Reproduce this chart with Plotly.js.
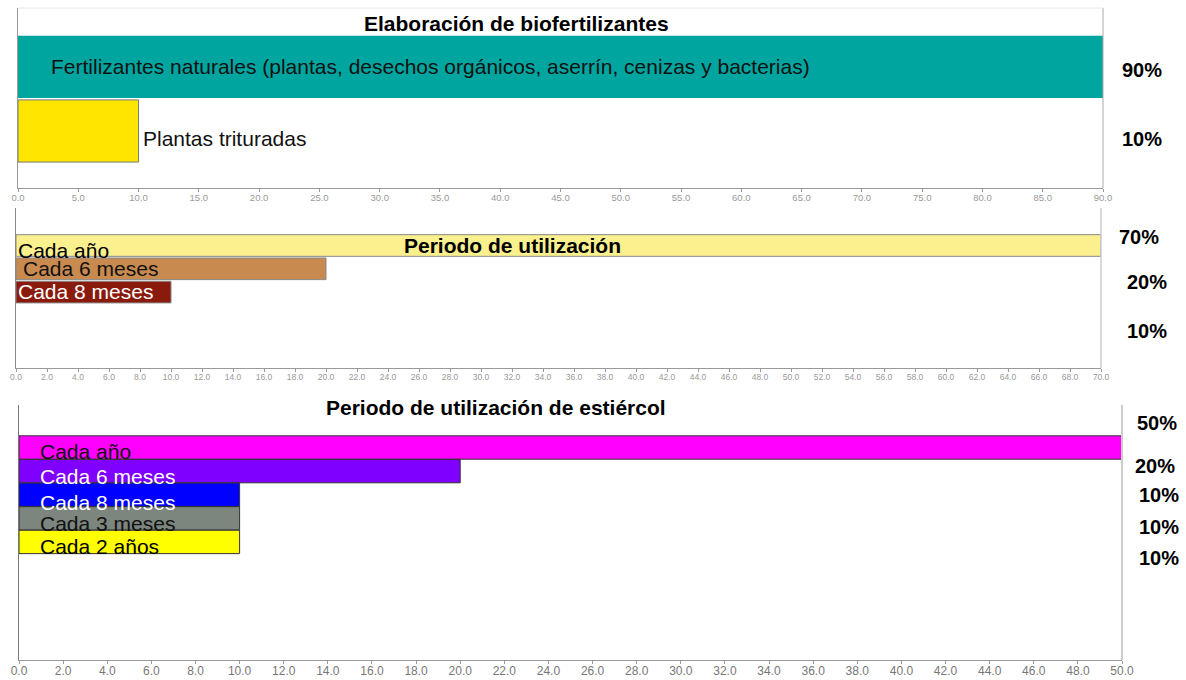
<!DOCTYPE html>
<html>
<head>
<meta charset="utf-8">
<script src="https://cdn.plot.ly/plotly-3.0.1.min.js"></script>
<style>html,body{margin:0;padding:0;background:#fff}#chart{width:1186px;height:680px}</style>
</head>
<body>
<div id="chart"></div>
<script>
// ---- data ----
const bioTitle = 'Elaboración de biofertilizantes';
const bioCats = ['Fertilizantes naturales (plantas, desechos orgánicos, aserrín, cenizas y bacterias)', 'Plantas trituradas'];
const bioVals = [90, 10];
const bioColors = ['#00A5A0', '#FFE600'];

const useTitle = 'Periodo de utilización';
const useCats = ['Cada año', 'Cada 6 meses', 'Cada 8 meses'];
const useVals = [70, 20, 10];
const useColors = ['#FAF08E', '#C98A50', '#8A1B0C'];

const manTitle = 'Periodo de utilización de estiércol';
const manCats = ['Cada año', 'Cada 6 meses', 'Cada 8 meses', 'Cada 3 meses', 'Cada 2 años'];
const manVals = [50, 20, 10, 10, 10];
const manColors = ['#FF00FF', '#8000FF', '#0000FF', '#7C857E', '#FFFF00'];

// ---- layout helpers ----
const W = 1186, H = 680;
const px = v => v / W;
const py = v => 1 - v / H;
const FONT = 'Arial, "Liberation Sans", sans-serif';
const LBL = 21;

const traces = [
  {type:'bar', orientation:'h', x:bioVals, y:bioCats, xaxis:'x', yaxis:'y', width:0.97,
   marker:{color:bioColors, line:{color:['rgba(0,0,0,0)','#777'], width:1}}, hoverinfo:'x+y'},
  {type:'bar', orientation:'h', x:useVals, y:useCats, xaxis:'x2', yaxis:'y2', width:0.93,
   marker:{color:useColors, line:{color:'#888', width:1}}, hoverinfo:'x+y'},
  {type:'bar', orientation:'h', x:manVals, y:manCats, xaxis:'x3', yaxis:'y3', width:0.99,
   marker:{color:manColors, line:{color:'#333', width:1}}, hoverinfo:'x+y'}
];

function xax(domain, range, dtick, anchor, size, color, standoff) {
  return {domain:domain, range:range, dtick:dtick, tick0:0, tickmode:'linear', tickformat:'.1f',
    anchor:anchor, showgrid:false, zeroline:false, showline:true, linecolor:'#999', linewidth:1,
    ticks:'outside', ticklen:3, tickcolor:'#999', ticklabelstandoff:standoff,
    tickfont:{family:FONT, size:size, color:color}, fixedrange:true};
}
function yax(domain, range, anchor, lc) {
  return {domain:domain, range:range, type:'category', anchor:anchor, showgrid:false, zeroline:false,
    showline:true, linecolor:lc, linewidth:1.5, showticklabels:false, ticks:'', fixedrange:true};
}

const annotations = [];
function ttl(text, x, y) {
  annotations.push({text:'<b>'+text+'</b>', xref:'paper', yref:'paper', x:px(x), y:py(y),
    xanchor:'center', yanchor:'middle', showarrow:false, font:{family:FONT, size:21, color:'#000'}});
}
function pct(v, x, y) {
  annotations.push({text:'<b>'+v+'%</b>', xref:'paper', yref:'paper', x:px(x), y:py(y),
    xanchor:'left', yanchor:'middle', showarrow:false, font:{family:FONT, size:20, color:'#000'}});
}

// panel 1 labels
ttl(bioTitle, 516, 24);
annotations.push({text:bioCats[0], xref:'x', yref:'y', x:2.6, y:bioCats[0], xanchor:'left', yanchor:'middle',
  showarrow:false, font:{family:FONT, size:LBL, color:'#111'}});
annotations.push({text:bioCats[1], xref:'x', yref:'paper', x:bioVals[1]+0.2, y:py(139), xanchor:'left', yanchor:'middle',
  showarrow:false, font:{family:FONT, size:LBL, color:'#111'}});
pct(bioVals[0], 1120, 70);
pct(bioVals[1], 1120, 139);

// panel 2 labels
ttl(useTitle, 512, 245);
const useLabY = [250, 269, 291];
const useLabX = [0, 0.35, 0];
const useLabC = ['#000', '#111', '#fff'];
useCats.forEach((c, i) => annotations.push({text:c, xref:'x2', yref:'paper', x:useLabX[i], y:py(useLabY[i]),
  xanchor:'left', yanchor:'middle', showarrow:false, font:{family:FONT, size:LBL, color:useLabC[i]}}));
const usePctPos = [[1117, 237], [1125, 282], [1125, 331]];
useVals.forEach((v, i) => pct(v, usePctPos[i][0], usePctPos[i][1]));

// panel 3 labels
ttl(manTitle, 496, 407);
const manLabY = [451, 477, 502, 523, 546];
const manLabC = ['#111', '#fff', '#fff', '#111', '#000'];
manCats.forEach((c, i) => annotations.push({text:c, xref:'x3', yref:'paper', x:0.85, y:py(manLabY[i]),
  xanchor:'left', yanchor:'middle', showarrow:false, font:{family:FONT, size:LBL, color:manLabC[i]}}));
const manPctPos = [[1135, 423], [1133, 466], [1137, 495], [1137, 527], [1137, 558]];
manVals.forEach((v, i) => pct(v, manPctPos[i][0], manPctPos[i][1]));

const shapes = [
  {type:'line', xref:'paper', yref:'paper', x0:px(1103), x1:px(1103), y0:py(8), y1:py(188), line:{color:'#aaa', width:1}},
  {type:'line', xref:'paper', yref:'paper', x0:px(18), x1:px(1103), y0:py(8), y1:py(8), line:{color:'#e8e8e8', width:1}},
  {type:'line', xref:'paper', yref:'paper', x0:px(1101), x1:px(1101), y0:py(208), y1:py(368), line:{color:'#ccc', width:1.5}},
  {type:'line', xref:'paper', yref:'paper', x0:px(1122), x1:px(1122), y0:py(405), y1:py(660), line:{color:'#ccc', width:2}}
];

const layout = {
  width:W, height:H, margin:{l:0, r:0, t:0, b:0}, paper_bgcolor:'#fff', plot_bgcolor:'rgba(0,0,0,0)',
  showlegend:false, bargap:0,
  xaxis: xax([px(18), px(1103)], [0, 90], 5, 'y', 9.5, '#999', -2),
  yaxis: yax([py(188), py(8)], [1.89, -0.92], 'x', '#999'),
  xaxis2: xax([px(16), px(1101)], [0, 70], 2, 'y2', 8.5, '#999', -2),
  yaxis2: yax([py(368), py(208)], [5.26, -1.61], 'x2', '#888'),
  xaxis3: xax([px(19), px(1122)], [0, 50], 2, 'y3', 12, '#777', -3),
  yaxis3: yax([py(660), py(405)], [9.0, -1.8], 'x3', '#777'),
  annotations: annotations,
  shapes: shapes
};

Plotly.newPlot('chart', traces, layout, {displayModeBar:false, staticPlot:true});
</script>
</body>
</html>
